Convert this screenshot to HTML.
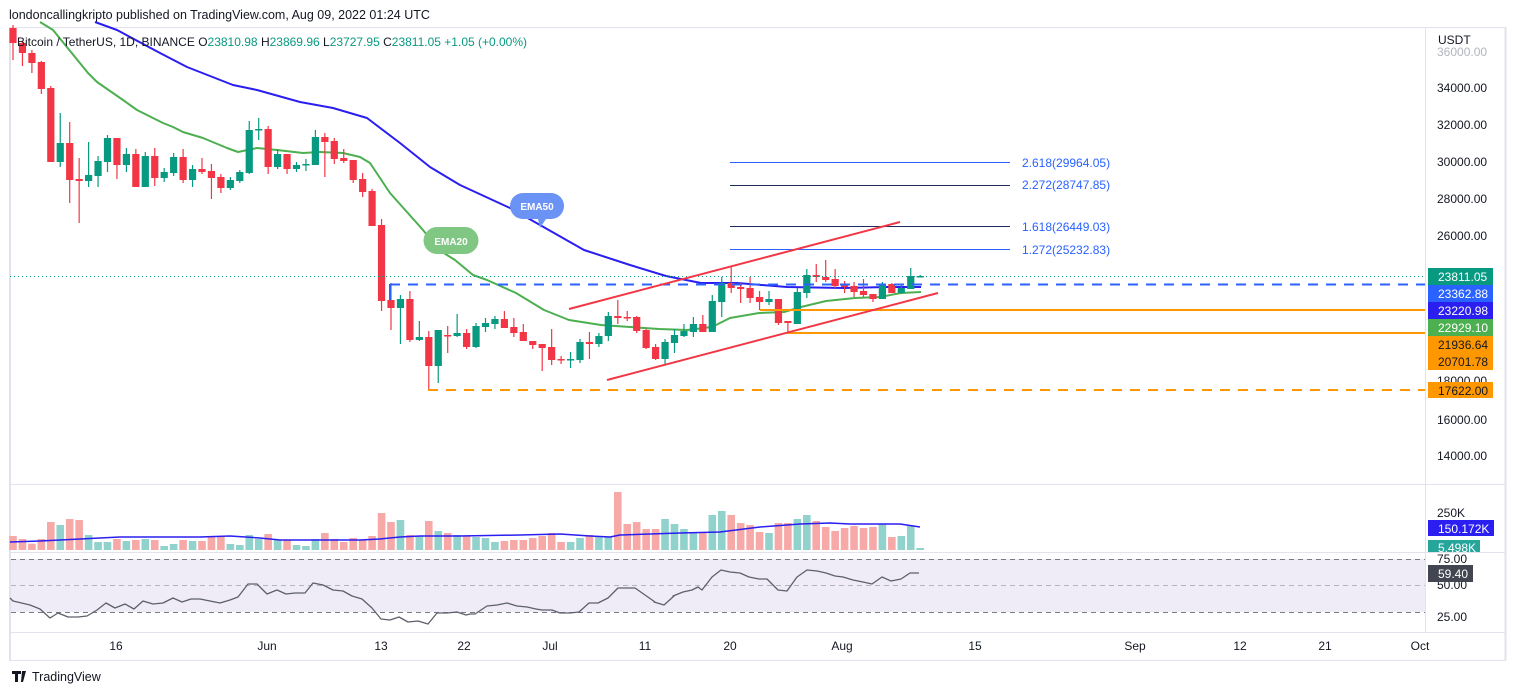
<!DOCTYPE html>
<html><head><meta charset="utf-8"><style>
html,body{margin:0;padding:0;background:#fff;width:1514px;height:695px;overflow:hidden}
svg text{font-family:"Liberation Sans",sans-serif}
</style></head><body>
<svg id="s" width="1514" height="695" xmlns="http://www.w3.org/2000/svg">
<rect width="1514" height="695" fill="#fff"/>
<text x="9" y="19" font-size="12.5" fill="#131722">londoncallingkripto published on TradingView.com, Aug 09, 2022 01:24 UTC</text>
<line x1="9" y1="27.5" x2="1506" y2="27.5" stroke="#e0e3eb"/>
<line x1="10" y1="27" x2="10" y2="660" stroke="#e0e3eb" stroke-width="2"/>
<line x1="1505.5" y1="27" x2="1505.5" y2="660" stroke="#e0e3eb" stroke-width="2"/>
<line x1="1425.5" y1="27" x2="1425.5" y2="632" stroke="#e0e3eb"/>
<line x1="10" y1="484.5" x2="1506" y2="484.5" stroke="#e0e3eb"/>
<line x1="10" y1="552.5" x2="1506" y2="552.5" stroke="#e0e3eb"/>
<line x1="10" y1="632.5" x2="1506" y2="632.5" stroke="#e0e3eb"/>
<line x1="9" y1="660.5" x2="1506" y2="660.5" stroke="#e0e3eb"/>
<rect x="11" y="559" width="1414" height="53" fill="#efecf7"/>
<line x1="11" y1="559.5" x2="1425" y2="559.5" stroke="#787b86" stroke-dasharray="5,4"/>
<line x1="11" y1="585.5" x2="1425" y2="585.5" stroke="#b2b5be" stroke-dasharray="5,4"/>
<line x1="11" y1="612.5" x2="1425" y2="612.5" stroke="#787b86" stroke-dasharray="5,4"/>
<g id="g"></g>
<!-- fib lines -->
<line x1="730" y1="162.5" x2="1010" y2="162.5" stroke="#2962ff"/>
<line x1="730" y1="185.5" x2="1010" y2="185.5" stroke="#1e2a5a"/>
<line x1="730" y1="226.5" x2="1010" y2="226.5" stroke="#1e2a5a"/>
<line x1="730" y1="249.5" x2="1010" y2="249.5" stroke="#2962ff"/>
<g font-size="12" fill="#2962ff">
<text x="1022" y="167">2.618(29964.05)</text>
<text x="1022" y="189">2.272(28747.85)</text>
<text x="1022" y="231">1.618(26449.03)</text>
<text x="1022" y="254">1.272(25232.83)</text>
</g>
<!-- horizontal levels -->
<line x1="10" y1="276.5" x2="1425" y2="276.5" stroke="#089981" stroke-dasharray="1,3"/>
<line x1="390" y1="284.5" x2="1425" y2="284.5" stroke="#2962ff" stroke-width="2" stroke-dasharray="10,8"/>
<line x1="390" y1="284" x2="390" y2="300" stroke="#2962ff" stroke-width="2"/>
<line x1="760" y1="310" x2="1425" y2="310" stroke="#ff9800" stroke-width="2"/>
<line x1="787" y1="333" x2="1425" y2="333" stroke="#ff9800" stroke-width="2"/>
<line x1="428" y1="390" x2="1425" y2="390" stroke="#ff9800" stroke-width="2" stroke-dasharray="10,8"/>
<line x1="569" y1="309" x2="900" y2="222" stroke="#f23645" stroke-width="2"/>
<line x1="607" y1="380" x2="938" y2="293" stroke="#f23645" stroke-width="2"/>
<!-- EMA labels -->
<path d="M523,193 h28 a12,12 0 0 1 0,26 h-5 l-6,9 l-2,-9 h-15 a12,12 0 0 1 0,-26z" fill="#6b93f5"/>
<text x="537" y="210" font-size="10" fill="#fff" text-anchor="middle" font-weight="bold">EMA50</text>
<path d="M437,227 h28 a13,13 0 0 1 0,27 h-28 a13,13 0 0 1 0,-27z" fill="#81c784"/>
<text x="451" y="245" font-size="10" fill="#fff" text-anchor="middle" font-weight="bold">EMA20</text>
<!-- header -->
<text x="17" y="46" font-size="12" fill="#131722">Bitcoin / TetherUS, 1D, BINANCE <tspan fill="#131722">O</tspan><tspan fill="#089981">23810.98</tspan> <tspan fill="#131722">H</tspan><tspan fill="#089981">23869.96</tspan> <tspan fill="#131722">L</tspan><tspan fill="#089981">23727.95</tspan> <tspan fill="#131722">C</tspan><tspan fill="#089981">23811.05</tspan> <tspan fill="#089981">+1.05 (+0.00%)</tspan></text>
<!-- axis -->
<g font-size="12" fill="#131722">
<text x="1438" y="44">USDT</text>
<text x="1437" y="56" fill="#b2b5be">36000.00</text>
<text x="1437" y="92">34000.00</text>
<text x="1437" y="129">32000.00</text>
<text x="1437" y="166">30000.00</text>
<text x="1437" y="203">28000.00</text>
<text x="1437" y="240">26000.00</text>
<text x="1437" y="385">18000.00</text>
<text x="1437" y="424">16000.00</text>
<text x="1437" y="460">14000.00</text>
<text x="1437" y="517">250K</text>
<text x="1437" y="589">50.00</text>
<text x="1437" y="621">25.00</text>
<text x="1437" y="563">75.00</text>
</g>
<g font-size="12">
<rect x="1428" y="268" width="65" height="17" fill="#089981"/><text x="1438" y="281" fill="#fff">23811.05</text>
<rect x="1428" y="285" width="65" height="17" fill="#2962ff"/><text x="1438" y="298" fill="#fff">23362.88</text>
<rect x="1428" y="302" width="65" height="17" fill="#2a1ef0"/><text x="1438" y="315" fill="#fff">23220.98</text>
<rect x="1428" y="319" width="65" height="17" fill="#4caf50"/><text x="1438" y="332" fill="#fff">22929.10</text>
<rect x="1428" y="336" width="65" height="34" fill="#ff9800"/><text x="1438" y="349" fill="#131722">21936.64</text><text x="1438" y="366" fill="#131722">20701.78</text>
<rect x="1428" y="382" width="65" height="16" fill="#ff9800"/><text x="1438" y="395" fill="#131722">17622.00</text>
<rect x="1428" y="520" width="66" height="16" fill="#2a1ef0"/><text x="1438" y="533" fill="#fff">150.172K</text>
<rect x="1428" y="540" width="52" height="12" fill="#26a69a"/><text x="1438" y="552" fill="#fff">5.498K</text>
<rect x="1428" y="565" width="45" height="17" fill="#434651"/><text x="1438" y="578" fill="#fff">59.40</text>
</g>
<g font-size="12" fill="#131722" text-anchor="middle">
<text x="116" y="650">16</text><text x="267" y="650">Jun</text><text x="381" y="650">13</text><text x="464" y="650">22</text><text x="550" y="650">Jul</text><text x="645" y="650">11</text><text x="730" y="650">20</text><text x="842" y="650">Aug</text><text x="975" y="650">15</text><text x="1135" y="650">Sep</text><text x="1240" y="650">12</text><text x="1325" y="650">21</text><text x="1420" y="650">Oct</text>
</g>
<path d="M12,671 h9 v3 h-3 v8 h-3 v-8 h-3z M22,671 h4 l-3,11 h-2z" fill="#131722"/>
<text x="32" y="681" font-size="12.5" fill="#131722">TradingView</text>
</svg>
<script>
var C=[['r',28,43,25,60],['r',43,53,41,66],['r',53,63,50,73],['r',62,89,61,94],['r',88,162,86,162],['g',143,162,113,167],['r',143,180,122,203],['r',179,181,158,223],['g',175,181,142,187],['g',161,176,156,187],['g',138,162,135,172],['r',138,165,138,179],['g',154,165,148,172],['r',154,187,149,187],['g',156,187,152,187],['r',156,178,148,186],['g',172,178,168,182],['g',157,173,153,176],['r',157,180,149,183],['g',169,180,165,187],['r',169,172,158,174],['r',171,178,164,199],['r',177,188,174,193],['g',180,188,177,190],['g',172,181,170,183],['g',130,173,121,174],['g',129,130,118,140],['r',129,167,126,174],['g',154,167,149,169],['r',154,169,154,174],['g',165,169,162,172],['g',164,165,159,171],['g',137,165,130,165],['r',137,142,133,177],['r',141,159,138,164],['r',158,161,149,163],['r',160,180,160,183],['r',179,192,173,197],['r',191,226,189,226],['r',225,301,219,311],['r',300,308,283,330],['g',299,308,295,344],['r',299,340,291,342],['g',337,340,321,341],['r',337,366,331,390],['g',330,366,330,383],['r',335,336,326,353],['g',333,336,314,337],['r',333,347,329,349],['g',326,347,323,348],['g',323,327,318,332],['g',319,324,316,329],['r',319,328,311,328],['r',327,333,318,337],['r',332,341,324,341],['r',341,345,341,349],['r',344,348,344,371],['r',347,360,329,365],['r',359,360,356,364],['g',359,360,352,368],['g',342,360,339,363],['r',342,344,332,359],['g',336,344,333,347],['g',316,336,312,341],['r',316,318,300,324],['r',317,318,311,321],['r',317,331,316,333],['r',330,348,329,349],['r',347,359,344,360],['g',342,359,339,365],['g',335,343,329,353],['g',331,336,324,337],['g',324,332,317,337],['r',324,332,315,332],['g',301,332,295,332],['g',283,302,277,317],['r',283,288,267,293],['r',287,289,283,303],['r',288,298,277,303],['r',297,302,291,310],['g',299,302,291,305],['r',299,323,299,325],['r',321,323,321,332],['g',292,324,288,324],['g',275,293,269,298],['r',275,277,264,282],['r',277,280,260,282],['r',279,286,269,288],['r',285,287,281,293],['r',286,292,282,297],['r',291,295,279,297],['r',294,299,294,302],['g',284,299,282,299],['r',284,293,283,293],['g',288,293,285,294],['g',276,289,268,289],['g',276,277,275,277]];
var V=[168,177,191,177,126,135,117,120,165,186,186,177,183,180,177,180,198,192,180,183,183,168,168,192,195,165,177,162,180,180,195,198,177,159,177,186,174,180,168,99,126,120,165,168,123,153,159,165,168,171,174,186,183,180,180,174,168,159,186,186,174,165,171,171,36,132,126,147,147,117,132,147,156,156,105,93,105,129,135,156,159,129,129,117,105,123,141,153,144,138,144,141,132,171,168,138,204];
var s='';function X(i){return 13+i*9.45}
for(var i=0;i<V.length;i++){var c=C[i],x=X(i),col=c[0]=='r'?'#f7a9a7':'#92d2cc';var t=V[i]/3+480;s+='<rect x="'+(x-3.8)+'" y="'+t+'" width="7.6" height="'+(550-t)+'" fill="'+col+'"/>';}
function P(pts,col,w){var d='M'+pts.map(function(p){return p.join(',')}).join(' L');s+='<path d="'+d+'" fill="none" stroke="'+col+'" stroke-width="'+w+'" stroke-linejoin="round"/>';}
var vm=[[10,542],[40,541],[80,539],[120,537],[200,537],[230,536],[260,538],[280,540],[320,540],[360,540],[380,539],[400,537],[420,536],[460,536],[520,535],[560,534],[590,536],[610,537],[620,535],[680,533],[720,532],[760,527],[800,524],[830,523],[850,524],[880,524],[900,524],[920,527]];
P(vm,'#2a1ef0',1.5);
var rsi=[[10,598],[13,601],[30,605],[40,609],[50,618],[58,613],[68,617],[78,617],[87,616],[97,610],[106,603],[115,608],[125,604],[134,609],[143,601],[153,604],[163,603],[173,598],[182,602],[191,599],[200,599],[210,601],[220,603],[230,600],[238,597],[248,584],[257,584],[267,594],[277,590],[286,594],[295,593],[305,593],[313,583],[323,585],[333,590],[343,591],[352,596],[362,599],[372,608],[381,619],[390,620],[399,617],[408,622],[418,621],[428,624],[437,613],[447,613],[457,612],[466,615],[470,614],[475,614],[475,614],[487,606],[497,605],[507,603],[517,606],[527,607],[536,609],[542,610],[552,610],[560,613],[570,613],[579,612],[589,603],[598,603],[608,598],[618,588],[625,588],[635,588],[645,595],[655,602],[654,602],[664,605],[664,605],[674,596],[673,596],[683,592],[692,590],[698,587],[702,590],[712,577],[721,570],[730,572],[740,573],[749,577],[759,579],[767,579],[778,590],[787,591],[797,577],[807,570],[817,571],[826,573],[835,576],[843,577],[853,580],[863,582],[872,584],[882,577],[891,581],[901,579],[910,573],[919,573]];
P(rsi,'#5d606b',1.3);
var e50=[[95,22],[117,30],[160,53],[187,67],[233,85],[257,90],[300,102],[333,108],[367,118],[400,143],[430,167],[460,185],[510,208],[540,225],[584,250],[630,265],[666,276],[701,283],[737,283],[787,287],[844,288],[887,287],[921,287]];
P(e50,'#2a1ef0',2);
var e20=[[40,22],[53,30],[88,73],[97,82],[123,100],[137,110],[163,123],[173,127],[183,132],[203,138],[227,148],[238,152],[257,148],[277,150],[303,153],[320,152],[343,153],[360,157],[370,163],[390,193],[423,230],[439,250],[455,260],[473,275],[487,280],[516,293],[544,310],[569,320],[601,325],[630,327],[659,329],[687,330],[712,327],[730,318],[759,313],[784,312],[801,307],[826,301],[855,298],[880,297],[901,293],[921,292]];
P(e20,'#4caf50',2);
for(var i=0;i<C.length;i++){var c=C[i],x=X(i),col=c[0]=='r'?'#f23645':'#089981';s+='<line x1="'+x+'" y1="'+c[3]+'" x2="'+x+'" y2="'+c[4]+'" stroke="'+col+'" stroke-width="1.2"/>';s+='<rect x="'+(x-3.6)+'" y="'+c[1]+'" width="7.2" height="'+Math.max(1.5,c[2]-c[1])+'" fill="'+col+'"/>';}
document.getElementById('g').innerHTML=s;
</script>
</body></html>
